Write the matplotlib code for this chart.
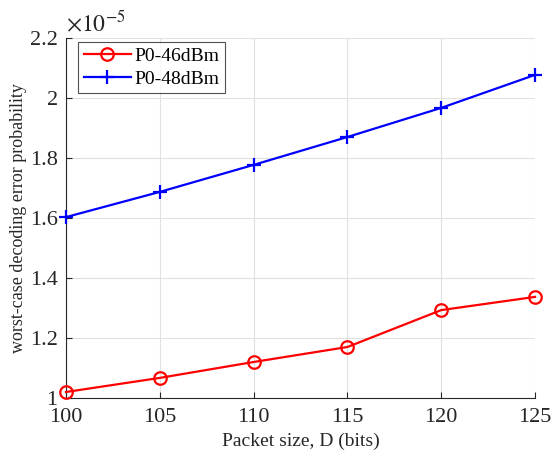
import matplotlib
matplotlib.use('Agg')
import matplotlib.pyplot as plt

plt.rcParams['font.family'] = ['Liberation Serif', 'DejaVu Serif']
plt.rcParams['mathtext.fontset'] = 'stix'

# data (values in units of 1e-5)
packet_size = [100, 105, 110, 115, 120, 125]
p0_46 = [1.02, 1.067, 1.12, 1.17, 1.293, 1.337]
p0_48 = [1.603, 1.687, 1.777, 1.87, 1.967, 2.077]
x_ticks = [100, 105, 110, 115, 120, 125]
y_ticks = [1.0, 1.2, 1.4, 1.6, 1.8, 2.0, 2.2]
y_labels = ['1', '1.2', '1.4', '1.6', '1.8', '2', '2.2']

fig = plt.figure(figsize=(5.53, 4.58), dpi=100)
ax = fig.add_axes([66 / 553, 60 / 458, 469 / 553, 360 / 458])

ax.plot(packet_size, p0_46, color='red', marker='o', markersize=9,
        markerfacecolor='none', markeredgewidth=1.6, linewidth=1.6,
        label='P0-46dBm', clip_on=False, zorder=3)
ax.plot(packet_size, p0_48, color='blue', marker='+', markersize=10,
        markeredgewidth=1.6, linewidth=1.6, label='P0-48dBm',
        clip_on=False, zorder=3)

ax.set_xlim(100, 125)
ax.set_ylim(1.0, 2.2)
ax.set_xticks(x_ticks)
ax.set_yticks(y_ticks)
ax.set_yticklabels(y_labels)
ax.tick_params(direction='in', labelsize=16, length=4, color='#262626',
               labelcolor='#262626')
ax.tick_params(axis='x', pad=7)
ax.tick_params(axis='y', pad=6)
ax.grid(True, color='#e1e1e1', linewidth=0.8)
ax.set_axisbelow(True)
for s in ['top', 'right']:
    ax.spines[s].set_visible(False)
for s in ['left', 'bottom']:
    ax.spines[s].set_color('#262626')
    ax.spines[s].set_linewidth(0.8)

ax.set_xlabel('Packet size, D (bits)', fontsize=14, color='#262626', labelpad=4)
ax.set_ylabel('worst-case decoding error probability', fontsize=13,
              color='#262626', labelpad=2)
ax.text(0.0, 1.005, r'$\times10^{-5}$', transform=ax.transAxes, fontsize=17,
        color='#262626', ha='left', va='bottom')

leg = ax.legend(loc='upper left', fontsize=14, frameon=True, fancybox=False,
                edgecolor='#262626', handlelength=2.4, borderpad=0.3,
                labelspacing=0.25, handletextpad=0.2, borderaxespad=0,
                bbox_to_anchor=(0.026, 0.99))
leg.get_frame().set_linewidth(0.8)

fig.savefig('out.png', dpi=100)
